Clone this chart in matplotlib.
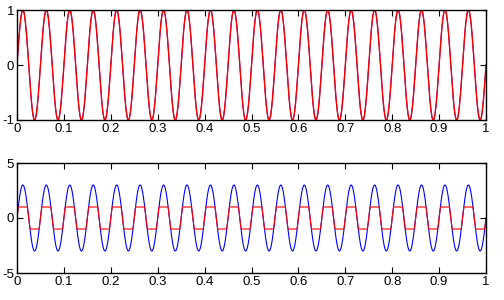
import numpy as np
import matplotlib
matplotlib.use("Agg")
import matplotlib.pyplot as plt

# ---- data description ----
freq_hz = 20.0               # signal frequency
amp_top = 1.0                # amplitude, top panel
amp_bottom = 3.0             # amplitude, bottom panel
clip_level = 1.0             # limiter level (red trace, bottom)
fs_fine = 5000               # samples/s for blue trace
fs_coarse = 1000             # samples/s for red trace
x_ticks = [0, 0.1, 0.2, 0.3, 0.4, 0.5, 0.6, 0.7, 0.8, 0.9, 1]
x_tick_labels = ["0", "0.1", "0.2", "0.3", "0.4", "0.5", "0.6", "0.7", "0.8", "0.9", "1"]
y_ticks_top = [-1, 0, 1]
y_ticks_bottom = [-5, 0, 5]

t_fine = np.arange(0, 1 + 1e-9, 1.0 / fs_fine)
t_coarse = np.arange(0, 1 + 1e-9, 1.0 / fs_coarse)

top_blue = amp_top * np.sin(2 * np.pi * freq_hz * t_fine)
top_red = amp_top * np.sin(2 * np.pi * freq_hz * t_coarse)
bot_blue = amp_bottom * np.sin(2 * np.pi * freq_hz * t_fine)
bot_red = np.clip(amp_bottom * np.sin(2 * np.pi * freq_hz * t_coarse), -clip_level, clip_level)

plt.rcParams['font.family'] = ['Liberation Sans', 'DejaVu Sans']

fig = plt.figure(figsize=(5.04, 3.0), dpi=100)
left = 17 / 504
width = (486 - 17) / 504
h = 110 / 300
ax1 = fig.add_axes([left, 1 - 120 / 300, width, h])
ax2 = fig.add_axes([left, 1 - 273 / 300, width, h])

ax1.plot(t_fine, top_blue, color='#0000ff', lw=0.7)
ax1.plot(t_coarse, top_red, color='#ff0000', lw=1.0)
ax1.set_ylim(-1, 1)
ax1.set_yticks(y_ticks_top)
ax1.set_yticklabels([str(v) for v in y_ticks_top])

ax2.plot(t_fine, bot_blue, color='#0000ff', lw=0.8)
ax2.plot(t_coarse, bot_red, color='#ff0000', lw=0.8)
ax2.set_ylim(-5, 5)
ax2.set_yticks(y_ticks_bottom)
ax2.set_yticklabels([str(v) for v in y_ticks_bottom])

for ax in (ax1, ax2):
    ax.set_xlim(0, 1)
    ax.set_xticks(x_ticks)
    ax.set_xticklabels(x_tick_labels)
    ax.tick_params(direction='in', top=True, right=True, length=4, width=0.8,
                   labelsize=9.5, pad=2)
    for s in ax.spines.values():
        s.set_linewidth(1.0)

fig.savefig("out.png", dpi=100)
